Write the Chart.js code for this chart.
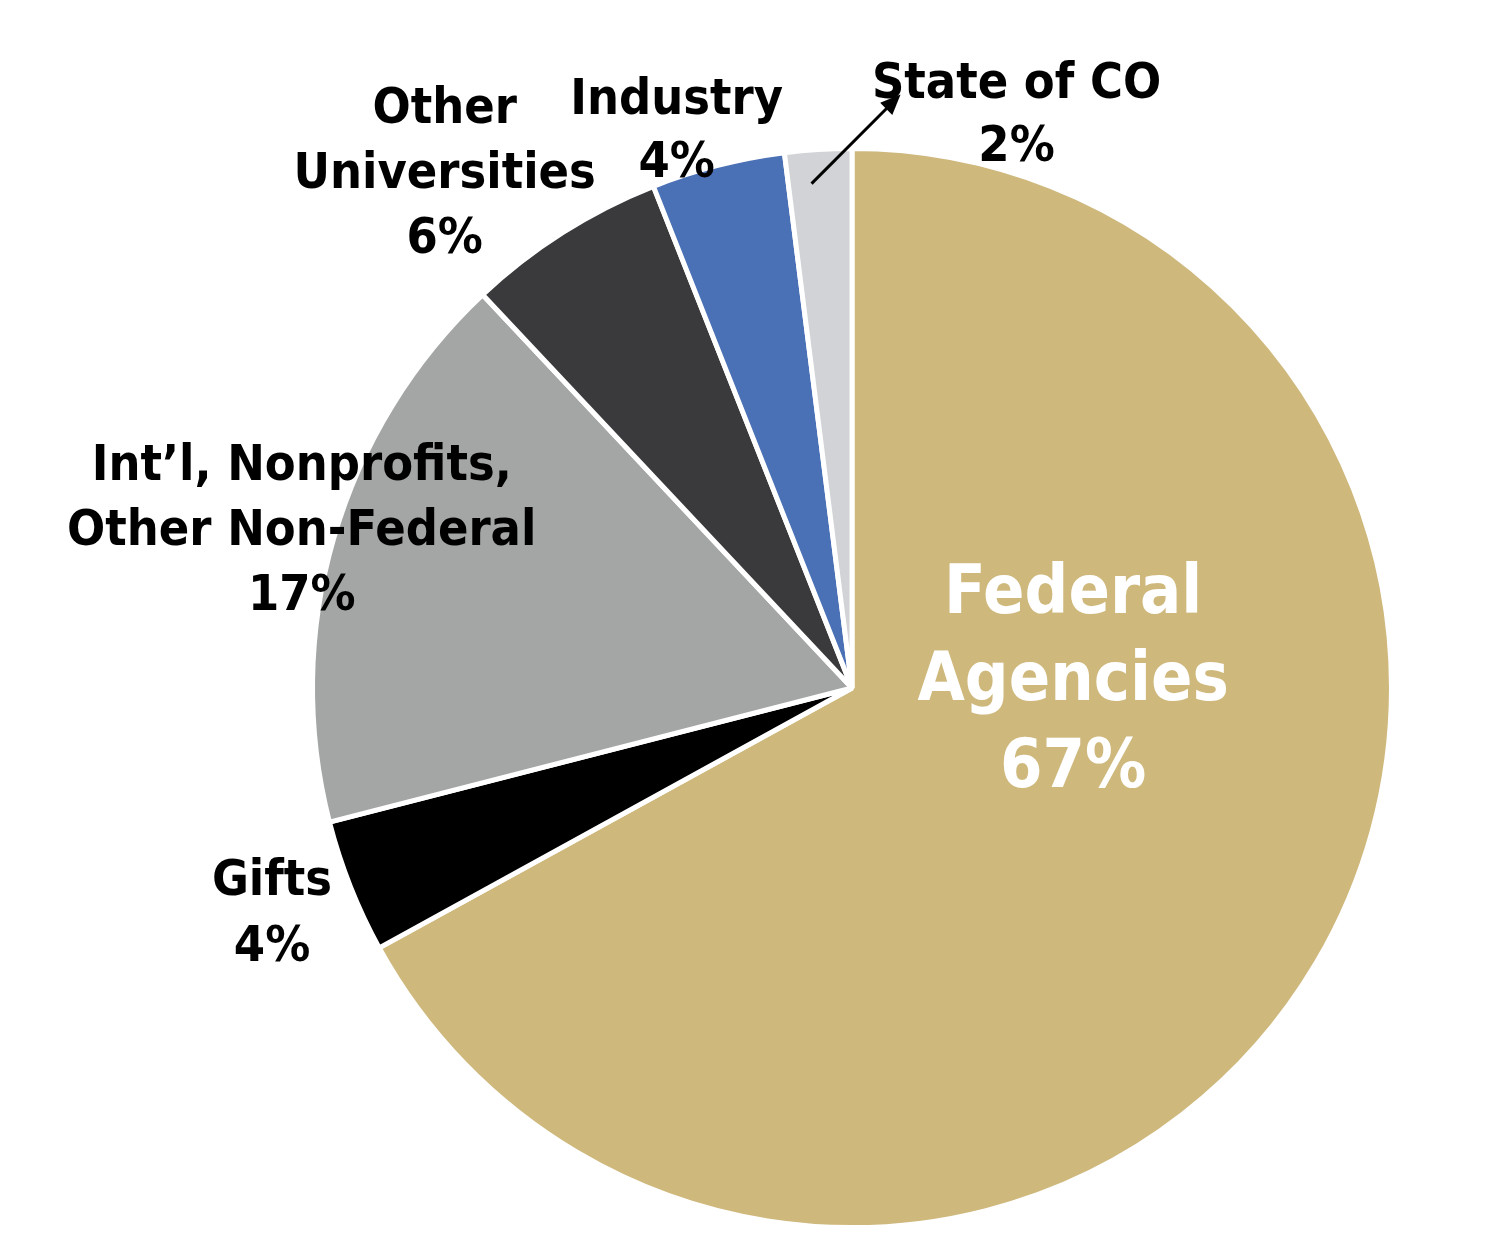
<!DOCTYPE html>
<html>
<head>
<meta charset="utf-8">
<script src="https://cdn.jsdelivr.net/npm/chart.js@4"></script>
<style>
  html, body { margin: 0; background: #fff; }
  #wrap { width: 1500px; height: 1234px; }
</style>
</head>
<body>
<div id="wrap"><canvas id="fundingPie"></canvas></div>
<script>
const categories = ["Federal Agencies", "Gifts", "Int'l, Nonprofits, Other Non-Federal", "Other Universities", "Industry", "State of CO"];
const shares = [67, 4, 17, 6, 4, 2];
const sliceColors = ["#cfb87c", "#000000", "#a4a5a5", "#3a3a3c", "#4a70b5", "#d1d3d6"];

// label lines and where they sit, relative to pie centre in units of radius
const labelSpecs = [
  { lines: ["Federal", "Agencies", "67%"], dx: 0.41, dy: -0.01, size: 68, gap: 87, color: "#fff" },
  { lines: ["Gifts", "4%"], dx: -1.075, dy: 0.42, size: 50, gap: 66, color: "#000" },
  { lines: ["Int\u2019l, Nonprofits,", "Other Non-Federal", "17%"], dx: -1.02, dy: -0.29, size: 50, gap: 65, color: "#000" },
  { lines: ["Other", "Universities", "6%"], dx: -0.755, dy: -0.95, size: 50, gap: 65, color: "#000" },
  { lines: ["Industry", "4%"], dx: -0.325, dy: -1.03, size: 50, gap: 63, color: "#000" },
  { lines: ["State of CO", "2%"], dx: 0.305, dy: -1.06, size: 50, gap: 63, color: "#000" },
];

const labelPlugin = {
  id: "sliceLabels",
  afterDraw(chart) {
    const arc = chart.getDatasetMeta(0).data[0];
    const cx = arc.x, cy = arc.y, r = arc.outerRadius;
    const ctx = chart.ctx;
    ctx.save();
    ctx.textAlign = "center";
    ctx.textBaseline = "middle";
    labelSpecs.forEach((spec) => {
      ctx.font = `bold ${spec.size}px "Liberation Sans Narrow", "DejaVu Sans Condensed", sans-serif`;
      ctx.fillStyle = spec.color;
      const x = cx + spec.dx * r;
      const y0 = cy + spec.dy * r - (spec.lines.length - 1) * spec.gap / 2;
      spec.lines.forEach((line, i) => ctx.fillText(line, x, y0 + i * spec.gap));
    });
    // arrow pointing from the small State of CO slice to its label
    const x1 = cx - 0.075 * r, y1 = cy - 0.935 * r;
    const x2 = cx + 0.09 * r, y2 = cy - 1.1 * r;
    ctx.strokeStyle = "#000";
    ctx.fillStyle = "#000";
    ctx.lineWidth = 3;
    ctx.beginPath();
    ctx.moveTo(x1, y1);
    ctx.lineTo(x2 - 8, y2 + 8);
    ctx.stroke();
    const a = Math.atan2(y2 - y1, x2 - x1);
    ctx.beginPath();
    ctx.moveTo(x2, y2);
    ctx.lineTo(x2 - 22 * Math.cos(a - 0.4), y2 - 22 * Math.sin(a - 0.4));
    ctx.lineTo(x2 - 22 * Math.cos(a + 0.4), y2 - 22 * Math.sin(a + 0.4));
    ctx.closePath();
    ctx.fill();
    ctx.restore();
  },
};

new Chart(document.querySelector("#fundingPie"), {
  type: "pie",
  data: {
    labels: categories,
    datasets: [
      {
        data: shares,
        backgroundColor: sliceColors,
        borderColor: "#ffffff",
        borderWidth: 5,
      },
    ],
  },
  options: {
    responsive: true,
    maintainAspectRatio: false,
    animation: false,
    layout: { padding: { top: 146, bottom: 4, left: 310, right: 106 } },
    plugins: {
      legend: { display: false },
      tooltip: { enabled: false },
    },
  },
  plugins: [labelPlugin],
});
</script>
</body>
</html>
